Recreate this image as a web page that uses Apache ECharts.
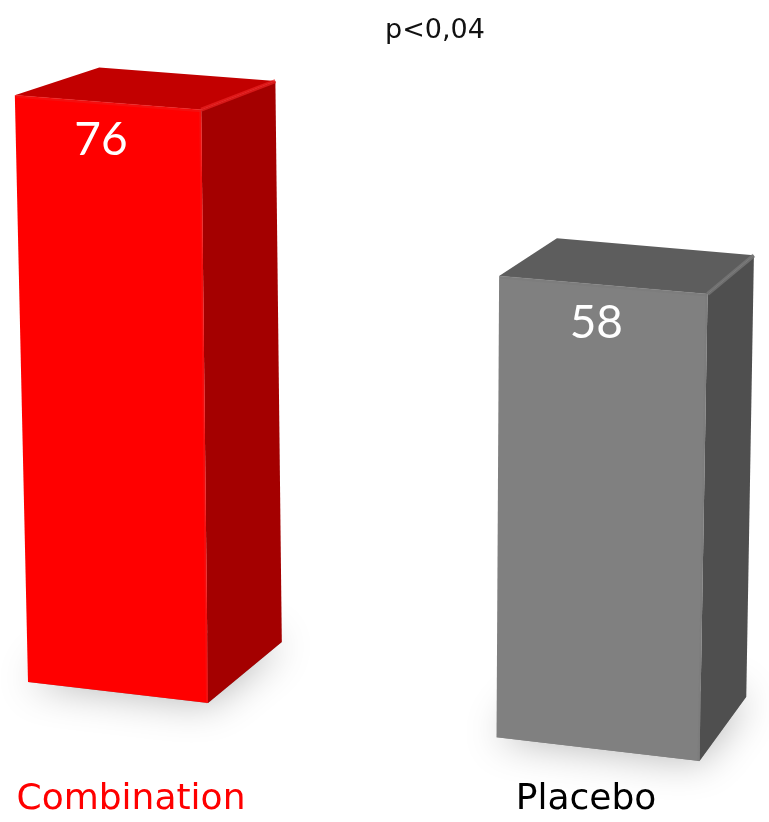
<!DOCTYPE html>
<html>
<head>
<meta charset="utf-8">
<script src="https://cdn.jsdelivr.net/npm/echarts@6/dist/echarts.min.js"></script>
<style>
  html, body { margin: 0; padding: 0; background: #ffffff; }
  #chart { width: 769px; height: 822px; }
</style>
</head>
<body>
<div id="chart"></div>
<script>
// Chart data
const categories = ['Combination', 'Placebo'];
const values = [76, 58];
const significance = 'p<0,04';

// Face colours for each box (front, top, side) and the category label colour
const palette = [
  { front: '#ff0000', top: '#c20000', side: '#a40000', edge: '#e82020', label: '#ff0000' },
  { front: '#808080', top: '#5d5d5d', side: '#4f4f4f', edge: '#7a7a7a', label: '#000000' }
];

const TEXT_FONT = "'Century Gothic', 'URW Gothic', 'DejaVu Sans', sans-serif";
const DIGIT_FONT = "'Century Gothic', 'URW Gothic', Lato, sans-serif";

// Perspective of the pseudo-3D boxes
const FLOOR_SLOPE = 0.118;     // floor tilts down to the right
const HEIGHT_PERSP = 6.4e-5;   // boxes further right appear slightly taller
const WIDTH_PERSP = 2.66e-4;   // ... and slightly wider
const HALF_WIDTH = 90;         // half width of the front face (px)
const SPREAD = 6e-5;           // vertical edges converge downwards
const SPREAD_X = 400;
const VANISH = [1550, -410];   // vanishing point of the depth edges
const DEPTH = 0.055;           // box depth as a fraction towards the vanishing point

function renderBox(params, api) {
  const i = api.value(0);
  const v = api.value(1);
  const base = api.coord([i, 0]);
  const tip = api.coord([i, v]);
  const x0 = api.coord([0, 0])[0];
  const h = base[1] - tip[1];
  const cx = base[0];
  const hw = HALF_WIDTH * (1 + WIDTH_PERSP * (cx - x0));
  const floorY = x => base[1] + FLOOR_SLOPE * (x - x0);
  const pt = (x, up) => [
    x + SPREAD * (x - SPREAD_X) * up,
    floorY(x) - up * (1 + HEIGHT_PERSP * (x - x0))
  ];
  const back = p => [p[0] + DEPTH * (VANISH[0] - p[0]), p[1] + DEPTH * (VANISH[1] - p[1])];

  const fbl = pt(cx - hw, 0), fbr = pt(cx + hw, 0);
  const ftl = pt(cx - hw, h), ftr = pt(cx + hw, h);
  const bbl = back(fbl), bbr = back(fbr), btl = back(ftl), btr = back(ftr);
  const c = palette[i % palette.length];

  return {
    type: 'group',
    children: [
      // soft floor shadow under the box
      {
        type: 'polygon',
        shape: { points: [fbl, fbr, bbr, bbl] },
        style: { fill: 'rgba(0,0,0,0.4)', shadowBlur: 40, shadowColor: 'rgba(0,0,0,0.75)' }
      },
      // side face
      {
        type: 'polygon',
        shape: { points: [fbr, bbr, btr, ftr] },
        style: { fill: c.side }
      },
      // top face
      {
        type: 'polygon',
        shape: { points: [ftl, ftr, btr, btl] },
        style: { fill: c.top }
      },
      // front face
      {
        type: 'polygon',
        shape: { points: [fbl, fbr, ftr, ftl] },
        style: { fill: c.front }
      },
      // rounded-edge highlights
      {
        type: 'line',
        shape: { x1: ftr[0], y1: ftr[1], x2: btr[0], y2: btr[1] },
        style: { stroke: c.edge, lineWidth: 4, opacity: 0.75, lineCap: 'butt' }
      },
      {
        type: 'line',
        shape: { x1: ftl[0] + 1, y1: ftl[1] + 1, x2: ftr[0], y2: ftr[1] + 1 },
        style: { stroke: c.edge, lineWidth: 3, opacity: 0.45, lineCap: 'butt' }
      },
      {
        type: 'line',
        shape: { x1: ftr[0] - 1, y1: ftr[1], x2: fbr[0] - 1, y2: fbr[1] },
        style: { stroke: c.edge, lineWidth: 2, opacity: 0.45, lineCap: 'butt' }
      },
      // value label on the front face
      {
        type: 'text',
        x: (ftl[0] + ftr[0]) / 2 - 7,
        y: (ftl[1] + ftr[1]) / 2 + 38,
        style: {
          text: String(v),
          fill: '#ffffff',
          font: '46px ' + DIGIT_FONT,
          align: 'center',
          verticalAlign: 'middle'
        }
      }
    ]
  };
}

const chart = echarts.init(document.getElementById('chart'), null, { renderer: 'canvas' });

chart.setOption({
  animation: false,
  backgroundColor: '#ffffff',
  title: {
    text: significance,
    left: 430,
    top: 12,
    textAlign: 'center',
    textStyle: { fontFamily: TEXT_FONT, fontSize: 27, fontWeight: 'normal', color: '#111111' }
  },
  grid: {
    left: -122, width: 960, bottom: 129.5, height: 698.7,
    containLabel: false,
    outerBoundsMode: 'none'
  },
  xAxis: {
    type: 'category',
    data: categories,
    boundaryGap: true,
    axisLine: { show: false },
    axisTick: { show: false },
    axisLabel: {
      interval: 0,
      margin: 89,
      hideOverlap: false,
      formatter: (val, idx) => '{c' + idx + '|' + val + '}',
      rich: {
        c0: { color: palette[0].label, fontSize: 36, fontFamily: TEXT_FONT, padding: [0, 0, 0, 26] },
        c1: { color: palette[1].label, fontSize: 36, fontFamily: TEXT_FONT, padding: [0, 24, 0, 0] }
      }
    }
  },
  yAxis: {
    type: 'value',
    min: 0,
    max: 90,
    show: false,
    splitLine: { show: false }
  },
  series: [{
    type: 'custom',
    renderItem: renderBox,
    encode: { x: 0, y: 1 },
    data: values.map((v, i) => [i, v]),
    clip: false
  }]
});
</script>
</body>
</html>
